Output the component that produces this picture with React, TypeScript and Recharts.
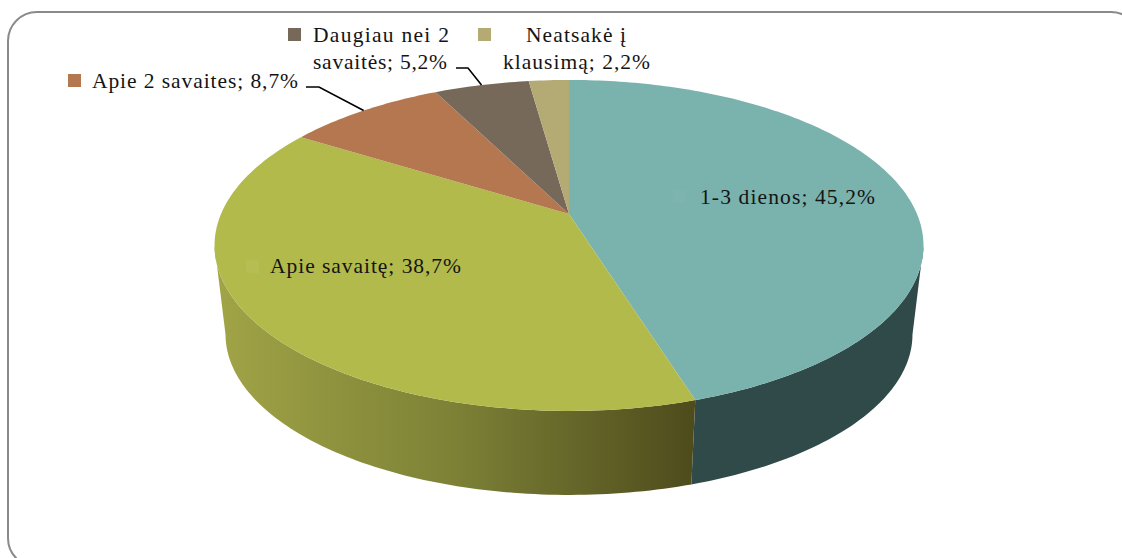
import React from "react";
import { PieChart, Pie } from "recharts";

const WIDTH = 1122;
const HEIGHT = 558;

const categories = ["1-3 dienos", "Apie savaitę", "Apie 2 savaites", "Daugiau nei 2 savaitės", "Neatsakė į klausimą"];
const shares = [45.2, 38.7, 8.7, 5.2, 2.2];
const sliceColors = ["#7ab2ad", "#b2ba4b", "#b47750", "#776959", "#b3aa74"];
const keyColors = ["#7db4af", "#b6bd52", "#b47750", "#776959", "#b3aa74"];

const pieData = categories.map((name, i) => ({ name, value: shares[i], fill: sliceColors[i] }));

// how each label is set out by hand, same order as the categories
const labelLayout = [
  { key: [673, 190], lines: [{ text: "1-3 dienos; 45,2%", x: 700, y: 204, w: 175 }] },
  { key: [246, 260], lines: [{ text: "Apie savaitę; 38,7%", x: 270, y: 273, w: 191 }] },
  { key: [68, 74], lines: [{ text: "Apie 2 savaites; 8,7%", x: 92, y: 88, w: 206 }], leader: [[306, 87], [319, 87]] },
  {
    key: [288, 28],
    lines: [
      { text: "Daugiau nei 2", x: 313, y: 42, w: 136 },
      { text: "savaitės; 5,2%", x: 313, y: 69, w: 134 },
    ],
    leader: [[456, 68], [468, 68]],
  },
  {
    key: [478, 28],
    lines: [
      { text: "Neatsakė į", x: 526, y: 42, w: 100 },
      { text: "klausimą; 2,2%", x: 503, y: 69, w: 147 },
    ],
  },
];

// perspective of the tilted disc
const RX = 348;
const RY = 159.5;
const TILT = -0.19;
const DEPTH = 84;
const SHRINK = 0.969;

function rimPoint(cx: number, cy: number, clockwise: number) {
  const rad = (clockwise * Math.PI) / 180;
  const u = Math.sin(rad);
  const v = -Math.cos(rad);
  const d = 1 + TILT * v;
  return { x: cx + (RX * u) / d, y: cy + (RY * v) / d };
}

function lowerPoint(cx: number, cy: number, p: { x: number; y: number }) {
  const front = cy + 197;
  return { x: cx + (p.x - cx) * SHRINK, y: p.y + DEPTH + (front - p.y) * 0.03 };
}

function sweep(from: number, to: number) {
  const out: number[] = [];
  for (let a = from; a < to; a += 1) out.push(a);
  out.push(to);
  return out;
}

const toPath = (pts: { x: number; y: number }[]) =>
  "M" + pts.map((p) => `${p.x.toFixed(2)},${p.y.toFixed(2)}`).join("L") + "Z";

function Slice3D(props: any) {
  const { cx, cy, startAngle, endAngle, fill, index } = props;
  const from = 90 - startAngle;
  const to = 90 - endAngle;
  const top = sweep(from, to).map((a) => rimPoint(cx, cy, a));
  const frontFrom = Math.max(from, 101);
  const frontTo = Math.min(to, 259);
  let side = null;
  if (frontFrom < frontTo) {
    const upper = sweep(frontFrom, frontTo).map((a) => rimPoint(cx, cy, a));
    const lower = upper.map((p) => lowerPoint(cx, cy, p)).reverse();
    side = (
      <>
        <defs>
          <linearGradient id="sideOlive" x1="0" y1="0" x2="1" y2="0">
            <stop offset="0%" stopColor="#a1a446" />
            <stop offset="50%" stopColor="#7c8136" />
            <stop offset="100%" stopColor="#4e4b1c" />
          </linearGradient>
        </defs>
        <path d={toPath([...upper, ...lower])} fill={index === 1 ? "url(#sideOlive)" : "#2f4a49"} stroke="none" />
      </>
    );
  }
  return (
    <g>
      {side}
      <path d={toPath([{ x: cx, y: cy }, ...top])} fill={fill} stroke="none" />
    </g>
  );
}

function SliceLabel(props: any) {
  const { cx, cy, midAngle, index } = props;
  const layout = labelLayout[index];
  const tip = rimPoint(cx, cy, 90 - midAngle);
  return (
    <g>
      <rect x={layout.key[0]} y={layout.key[1]} width={13} height={13} fill={keyColors[index]} />
      {layout.lines.map((line) => (
        <text
          key={line.text}
          x={line.x}
          y={line.y}
          textLength={line.w}
          lengthAdjust="spacing"
          fontFamily="'Liberation Serif', serif"
          fontSize={21.5}
          fill="#141414"
        >
          {line.text}
        </text>
      ))}
      {layout.leader && (
        <polyline
          points={[...layout.leader, [tip.x, tip.y]].map((p) => p.join(",")).join(" ")}
          fill="none"
          stroke="#000000"
          strokeWidth={1.6}
        />
      )}
    </g>
  );
}

export default function App() {
  return (
    <div style={{ position: "fixed", left: 0, top: 0, width: WIDTH, height: HEIGHT, overflow: "hidden", background: "#ffffff" }}>
      <div
        style={{
          position: "absolute",
          left: 7,
          top: 11,
          width: 1130,
          height: 553,
          border: "2px solid #8a8a8a",
          borderRadius: 30,
        }}
      />
      <div style={{ position: "absolute", left: 0, top: 0 }}>
        <PieChart width={WIDTH} height={HEIGHT} margin={{ top: 0, right: 0, bottom: 0, left: 0 }}>
          <Pie
            data={pieData}
            dataKey="value"
            nameKey="name"
            cx={569}
            cy={214}
            outerRadius={RX}
            startAngle={90}
            endAngle={-270}
            stroke="none"
            shape={Slice3D}
            activeShape={Slice3D}
            inactiveShape={Slice3D}
            label={SliceLabel}
            labelLine={false}
            isAnimationActive={false}
          />
        </PieChart>
      </div>
    </div>
  );
}
